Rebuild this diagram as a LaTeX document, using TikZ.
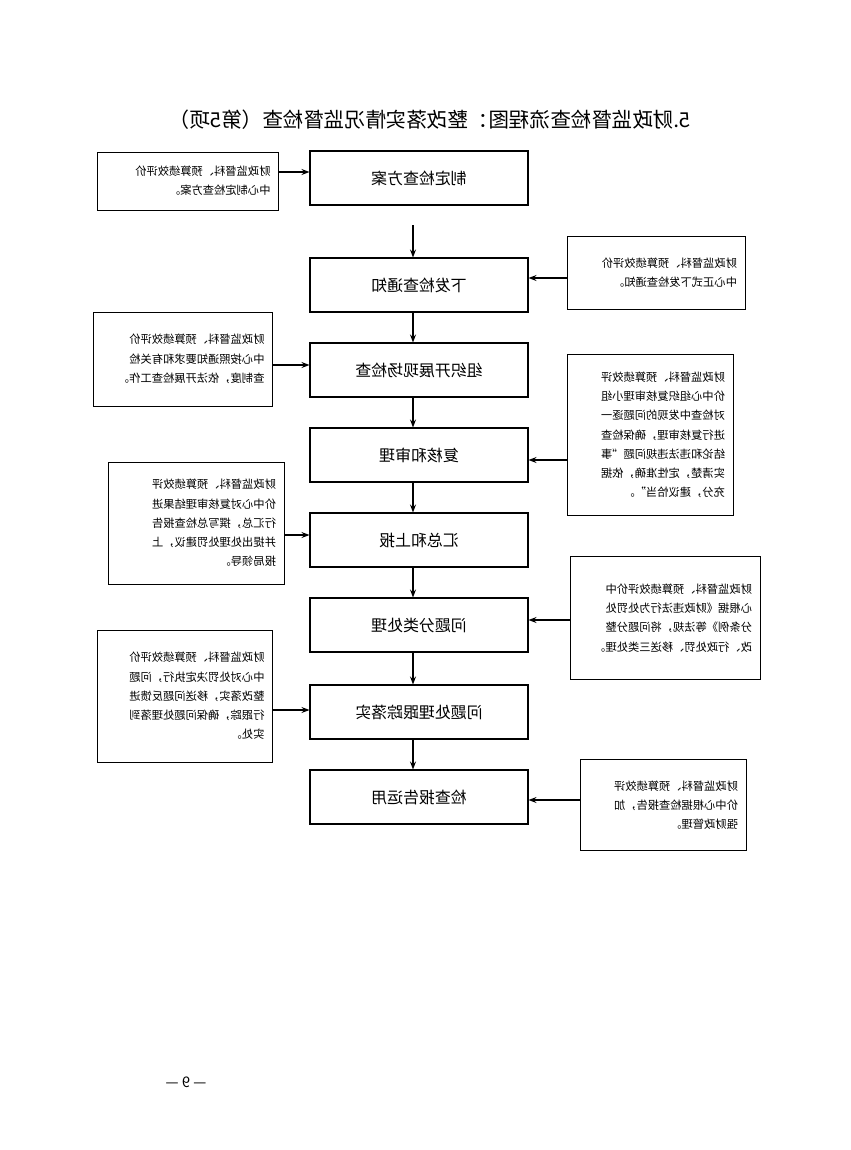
\documentclass[tikz,border=0pt]{standalone}
\usepackage{fontspec}
\newfontfamily\cjk{Noto Sans CJK SC}
\usetikzlibrary{positioning,arrows.meta}
\newdimen\px \px=0.0265cm
\begin{document}
\begin{tikzpicture}[
        x = 0.0265cm, y = -0.0265cm,
        flip/.style    = {xscale=-1},
        stage/.style   = {draw, thick, flip, minimum width=218\px, minimum height=54\px, font=\cjk\fontsize{12}{14}\selectfont},
        note/.style    = {draw, flip, inner sep=4pt, align=left, font=\cjk\fontsize{8.5}{14.5}\selectfont},
        link/.style    = {-{Stealth[length=6pt]}, thick},
    ]
    \useasboundingbox (0,0) rectangle (850,1150);
    % title and page number
    \node[flip, font=\cjk\fontsize{15.5}{18}\selectfont] (title) at (430,120) {5.财政监督检查流程图：整改落实情况监督检查（第5项）};
    \node[flip, font=\cjk\fontsize{11}{13}\selectfont] (page) at (186,1082) {— 9 —};
    % main steps
    \node[stage] (s1) at (419,178) {制定检查方案};
    \node[stage] (s2) at (419,285) {下发检查通知};
    \node[stage] (s3) at (419,370) {组织开展现场检查};
    \node[stage] (s4) at (419,455) {复核和审理};
    \node[stage] (s5) at (419,540) {汇总和上报};
    \node[stage] (s6) at (419,625) {问题分类处理};
    \node[stage] (s7) at (419,712) {问题处理跟踪落实};
    \node[stage] (s8) at (419,797) {检查报告运用};
    % notes
    \node[note, minimum width=181\px, minimum height=58\px, text width=165\px] (n1) at (188,181) {财政监督科、预算绩效评价\\中心制定检查方案。};
    \node[note, minimum width=178\px, minimum height=73\px, text width=162\px] (n2) at (656,273) {财政监督科、预算绩效评价\\中心正式下发检查通知。};
    \node[note, minimum width=179\px, minimum height=94\px, text width=163\px] (n3) at (183,359) {财政监督科、预算绩效评价\\中心按照通知要求和有关检\\查制度，依法开展检查工作。};
    \node[note, minimum width=166\px, minimum height=161\px, text width=150\px] (n4) at (650,435) {财政监督科、预算绩效评\\价中心组织复核审理小组\\对检查中发现的问题逐一\\进行复核审理，确保检查\\结论和违法违规问题“事\\实清楚，定性准确，依据\\充分，建议恰当”。};
    \node[note, minimum width=176\px, minimum height=122\px, text width=160\px] (n5) at (196,523) {财政监督科、预算绩效评\\价中心对复核审理结果进\\行汇总，撰写总检查报告\\并提出处理处罚建议，上\\报局领导。};
    \node[note, minimum width=190\px, minimum height=123\px, text width=174\px] (n6) at (665,618) {财政监督科、预算绩效评价中\\心根据《财政违法行为处罚处\\分条例》等法规，将问题分整\\改、行政处罚、移送三类处理。};
    \node[note, minimum width=175\px, minimum height=132\px, text width=159\px] (n7) at (185,696) {财政监督科、预算绩效评价\\中心对处罚决定执行，问题\\整改落实，移送问题反馈进\\行跟踪，确保问题处理落到\\实处。};
    \node[note, minimum width=166\px, minimum height=91\px, text width=150\px] (n8) at (663,805) {财政监督科、预算绩效评\\价中心根据检查报告，加\\强财政管理。};
    % flow
    \coordinate (gap) at (413,225);
    \draw[link] (gap) -- (s2.north -| gap);
    \foreach \a/\b in {s2/s3, s3/s4, s4/s5, s5/s6, s6/s7, s7/s8}
        \draw[link] (\a.south -| gap) -- (\b.north -| gap);
    % notes to steps
    \draw[link] (n1.west |- 0,172) -- (s1.east |- 0,172);
    \draw[link] (n2.east |- 0,278) -- (s2.west |- 0,278);
    \draw[link] (n3.west |- 0,365) -- (s3.east |- 0,365);
    \draw[link] (n4.east |- 0,460) -- (s4.west |- 0,460);
    \draw[link] (n5.west |- 0,535) -- (s5.east |- 0,535);
    \draw[link] (n6.east |- 0,620) -- (s6.west |- 0,620);
    \draw[link] (n7.west |- 0,710) -- (s7.east |- 0,710);
    \draw[link] (n8.east |- 0,800) -- (s8.west |- 0,800);
\end{tikzpicture}
\end{document}
